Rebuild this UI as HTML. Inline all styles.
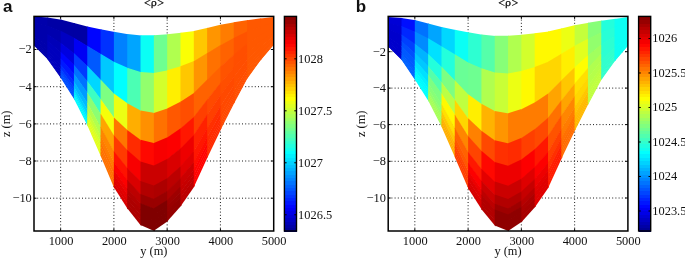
<!DOCTYPE html>
<html><head><meta charset="utf-8"><title>Mean density sections</title>
<style>
html,body{margin:0;padding:0;background:#fff;}
svg{display:block;will-change:transform;}
.g{stroke:#000;stroke-width:0.9;stroke-dasharray:1 2.2;}
.t{stroke:#000;stroke-width:1;}
.l{font-family:"Liberation Serif","DejaVu Serif",serif;font-size:12.4px;fill:#111;}
.ti{font-family:"Liberation Serif","DejaVu Serif",serif;font-size:12px;fill:#000;stroke:#000;stroke-width:0.25px;letter-spacing:0.3px;}
.rho{font-family:"DejaVu Serif","Liberation Serif",serif;font-size:9.8px;}
.pl{font-family:"Liberation Sans","DejaVu Sans",sans-serif;font-weight:bold;font-size:17px;fill:#111;}
</style></head>
<body>
<svg width="685" height="258" viewBox="0 0 685 258">
<rect width="685" height="258" fill="#fff"/>
<line x1="34.00" y1="49.50" x2="273.70" y2="49.50" class="g"/>
<line x1="34.00" y1="86.70" x2="273.70" y2="86.70" class="g"/>
<line x1="34.00" y1="123.90" x2="273.70" y2="123.90" class="g"/>
<line x1="34.00" y1="161.00" x2="273.70" y2="161.00" class="g"/>
<line x1="34.00" y1="198.20" x2="273.70" y2="198.20" class="g"/>
<line x1="60.63" y1="16.40" x2="60.63" y2="231.00" class="g"/>
<line x1="113.90" y1="16.40" x2="113.90" y2="231.00" class="g"/>
<line x1="167.17" y1="16.40" x2="167.17" y2="231.00" class="g"/>
<line x1="220.43" y1="16.40" x2="220.43" y2="231.00" class="g"/>
<polygon points="34.00,16.60 48.22,17.45 48.22,26.53 34.00,23.10" fill="#0000ac"/>
<polygon points="34.00,22.20 48.22,25.63 48.22,35.16 34.00,29.01" fill="#0000ac"/>
<polygon points="34.00,28.11 48.22,34.26 48.22,41.67 34.00,33.47" fill="#0000ac"/>
<polygon points="34.00,32.57 48.22,40.77 48.22,46.53 34.00,36.80" fill="#0000ac"/>
<polygon points="34.00,35.90 48.22,45.63 48.22,50.90 34.00,39.79" fill="#0000ac"/>
<polygon points="34.00,38.89 48.22,50.00 48.22,53.78 34.00,41.76" fill="#0000ac"/>
<polygon points="34.00,40.86 48.22,52.88 48.22,55.83 34.00,43.16" fill="#0000ac"/>
<polygon points="34.00,42.27 48.22,54.93 48.22,57.14 34.00,44.06" fill="#0000ac"/>
<polygon points="34.00,43.16 48.22,56.24 48.22,58.37 34.00,44.90" fill="#0000ac"/>
<polygon points="34.00,44.00 48.22,57.47 48.22,59.43 34.00,45.60" fill="#0000ac"/>
<polygon points="34.00,44.73 48.22,58.53 48.22,59.80 34.00,45.60" fill="#0000ac"/>
<polygon points="47.32,17.40 61.53,19.75 61.53,32.10 47.32,26.31" fill="#0000a6"/>
<polygon points="47.32,25.41 61.53,31.20 61.53,44.20 47.32,34.78" fill="#0000ae"/>
<polygon points="47.32,33.88 61.53,43.30 61.53,53.32 47.32,41.15" fill="#0000b8"/>
<polygon points="47.32,40.25 61.53,52.42 61.53,60.13 47.32,45.92" fill="#0000bd"/>
<polygon points="47.32,45.02 61.53,59.23 61.53,66.25 47.32,50.20" fill="#0000bd"/>
<polygon points="47.32,49.30 61.53,65.35 61.53,70.28 47.32,53.02" fill="#0000bd"/>
<polygon points="47.32,52.12 61.53,69.38 61.53,73.15 47.32,55.03" fill="#0000bd"/>
<polygon points="47.32,54.13 61.53,72.25 61.53,74.99 47.32,56.31" fill="#0000bd"/>
<polygon points="47.32,55.41 61.53,74.09 61.53,76.71 47.32,57.52" fill="#0000bd"/>
<polygon points="47.32,56.62 61.53,75.81 61.53,78.20 47.32,58.55" fill="#0000bd"/>
<polygon points="47.32,57.65 61.53,77.30 61.53,79.08 47.32,58.90" fill="#0000bd"/>
<polygon points="60.63,19.60 74.85,23.23 74.85,38.99 60.63,31.73" fill="#0000a4"/>
<polygon points="60.63,30.83 74.85,38.09 74.85,54.69 60.63,43.61" fill="#0000c2"/>
<polygon points="60.63,42.71 74.85,53.79 74.85,66.52 60.63,52.54" fill="#0000e0"/>
<polygon points="60.63,51.64 74.85,65.62 74.85,75.37 60.63,59.23" fill="#0004ff"/>
<polygon points="60.63,58.33 74.85,74.47 74.85,83.30 60.63,65.23" fill="#0018ff"/>
<polygon points="60.63,64.33 74.85,82.40 74.85,88.54 60.63,69.19" fill="#002cff"/>
<polygon points="60.63,68.29 74.85,87.64 74.85,92.27 60.63,72.01" fill="#0040ff"/>
<polygon points="60.63,71.11 74.85,91.37 74.85,94.65 60.63,73.81" fill="#004aff"/>
<polygon points="60.63,72.91 74.85,93.75 74.85,96.88 60.63,75.50" fill="#004fff"/>
<polygon points="60.63,74.60 74.85,95.98 74.85,98.81 60.63,76.95" fill="#004fff"/>
<polygon points="60.63,76.05 74.85,97.91 74.85,100.22 60.63,77.80" fill="#004fff"/>
<polygon points="73.95,23.00 88.17,26.84 88.17,47.09 73.95,38.53" fill="#0000a4"/>
<polygon points="73.95,37.63 88.17,46.19 88.17,67.54 73.95,53.99" fill="#0000f4"/>
<polygon points="73.95,53.09 88.17,66.64 88.17,82.94 73.95,65.64" fill="#003bff"/>
<polygon points="73.95,64.74 88.17,82.04 88.17,94.46 73.95,74.34" fill="#0072ff"/>
<polygon points="73.95,73.44 88.17,93.56 88.17,104.79 73.95,82.16" fill="#009bff"/>
<polygon points="73.95,81.26 88.17,103.89 88.17,111.61 73.95,87.31" fill="#00b9ff"/>
<polygon points="73.95,86.41 88.17,110.71 88.17,116.46 73.95,90.98" fill="#00cdff"/>
<polygon points="73.95,90.08 88.17,115.56 88.17,119.57 73.95,93.33" fill="#00e1ff"/>
<polygon points="73.95,92.43 88.17,118.67 88.17,122.48 73.95,95.53" fill="#00f0ff"/>
<polygon points="73.95,94.63 88.17,121.58 88.17,124.98 73.95,97.43" fill="#00faff"/>
<polygon points="73.95,96.53 88.17,124.08 88.17,127.09 73.95,98.80" fill="#00faff"/>
<polygon points="87.27,26.60 101.48,29.38 101.48,55.07 87.27,46.55" fill="#0004ff"/>
<polygon points="87.27,45.65 101.48,54.17 101.48,81.28 87.27,66.68" fill="#0059ff"/>
<polygon points="87.27,65.78 101.48,80.38 101.48,101.02 87.27,81.84" fill="#00d7ff"/>
<polygon points="87.27,80.94 101.48,100.12 101.48,115.78 87.27,93.18" fill="#3cffc3"/>
<polygon points="87.27,92.28 101.48,114.88 101.48,129.03 87.27,103.36" fill="#8cff73"/>
<polygon points="87.27,102.46 101.48,128.13 101.48,137.77 87.27,110.07" fill="#b0ff4f"/>
<polygon points="87.27,109.17 101.48,136.87 101.48,143.99 87.27,114.85" fill="#c4ff3b"/>
<polygon points="87.27,113.95 101.48,143.09 101.48,147.97 87.27,117.91" fill="#d3ff2c"/>
<polygon points="87.27,117.01 101.48,147.07 101.48,151.69 87.27,120.77" fill="#ddff22"/>
<polygon points="87.27,119.87 101.48,150.79 101.48,154.91 87.27,123.24" fill="#e2ff1d"/>
<polygon points="87.27,122.34 101.48,154.01 101.48,157.86 87.27,125.30" fill="#e2ff1d"/>
<polygon points="100.58,29.20 114.80,31.98 114.80,63.26 100.58,54.53" fill="#0031ff"/>
<polygon points="100.58,53.63 114.80,62.36 114.80,95.38 100.58,80.36" fill="#00c8ff"/>
<polygon points="100.58,79.46 114.80,94.48 114.80,119.57 100.58,99.81" fill="#7dff82"/>
<polygon points="100.58,98.91 114.80,118.67 114.80,137.66 100.58,114.35" fill="#f6ff09"/>
<polygon points="100.58,113.45 114.80,136.76 114.80,153.89 100.58,127.40" fill="#ffa400"/>
<polygon points="100.58,126.50 114.80,152.99 114.80,164.60 100.58,136.01" fill="#ff8600"/>
<polygon points="100.58,135.11 114.80,163.70 114.80,172.22 100.58,142.14" fill="#ff7c00"/>
<polygon points="100.58,141.24 114.80,171.32 114.80,177.10 100.58,146.07" fill="#ff7100"/>
<polygon points="100.58,145.17 114.80,176.20 114.80,181.67 100.58,149.74" fill="#ff7100"/>
<polygon points="100.58,148.84 114.80,180.77 114.80,185.61 100.58,152.90" fill="#ff7100"/>
<polygon points="100.58,152.00 114.80,184.71 114.80,189.43 100.58,155.80" fill="#ff7100"/>
<polygon points="113.90,31.80 128.12,34.15 128.12,68.93 113.90,62.71" fill="#0081ff"/>
<polygon points="113.90,61.81 128.12,68.03 128.12,104.75 113.90,94.43" fill="#00ffff"/>
<polygon points="113.90,93.53 128.12,103.85 128.12,131.72 113.90,118.32" fill="#ecff13"/>
<polygon points="113.90,117.42 128.12,130.82 128.12,151.89 113.90,136.19" fill="#ff7600"/>
<polygon points="113.90,135.29 128.12,150.99 128.12,169.99 113.90,152.22" fill="#ff3a00"/>
<polygon points="113.90,151.32 128.12,169.09 128.12,181.93 113.90,162.79" fill="#ff1200"/>
<polygon points="113.90,161.89 128.12,181.03 128.12,190.43 113.90,170.32" fill="#fd0000"/>
<polygon points="113.90,169.42 128.12,189.53 128.12,195.87 113.90,175.14" fill="#ee0000"/>
<polygon points="113.90,174.24 128.12,194.97 128.12,200.96 113.90,179.65" fill="#e40000"/>
<polygon points="113.90,178.75 128.12,200.06 128.12,205.35 113.90,183.54" fill="#df0000"/>
<polygon points="113.90,182.64 128.12,204.45 128.12,209.72 113.90,187.30" fill="#da0000"/>
<polygon points="127.22,34.00 141.43,35.39 141.43,73.10 127.22,68.54" fill="#00a5ff"/>
<polygon points="127.22,67.64 141.43,72.20 141.43,112.01 127.22,104.10" fill="#4bffb4"/>
<polygon points="127.22,103.20 141.43,111.11 141.43,141.31 127.22,130.87" fill="#ffae00"/>
<polygon points="127.22,129.97 141.43,140.41 141.43,163.23 127.22,150.90" fill="#ff2b00"/>
<polygon points="127.22,150.00 141.43,162.33 141.43,182.89 127.22,168.87" fill="#f80000"/>
<polygon points="127.22,167.97 141.43,181.99 141.43,195.86 127.22,180.72" fill="#da0000"/>
<polygon points="127.22,179.82 141.43,194.96 141.43,205.09 127.22,189.16" fill="#bc0000"/>
<polygon points="127.22,188.26 141.43,204.19 141.43,211.01 127.22,194.56" fill="#b20000"/>
<polygon points="127.22,193.66 141.43,210.11 141.43,216.54 127.22,199.61" fill="#ad0000"/>
<polygon points="127.22,198.71 141.43,215.64 141.43,221.31 127.22,203.97" fill="#ad0000"/>
<polygon points="127.22,203.07 141.43,220.41 141.43,226.13 127.22,208.30" fill="#ad0000"/>
<polygon points="140.53,35.30 154.75,35.30 154.75,74.01 140.53,72.81" fill="#0afff5"/>
<polygon points="140.53,71.91 154.75,73.11 154.75,113.97 140.53,111.51" fill="#92ff6d"/>
<polygon points="140.53,110.61 154.75,113.07 154.75,144.06 140.53,140.65" fill="#ff9000"/>
<polygon points="140.53,139.75 154.75,143.16 154.75,166.57 140.53,162.45" fill="#ff0800"/>
<polygon points="140.53,161.55 154.75,165.67 154.75,186.76 140.53,182.00" fill="#cb0000"/>
<polygon points="140.53,181.10 154.75,185.86 154.75,200.08 140.53,194.90" fill="#b20000"/>
<polygon points="140.53,194.00 154.75,199.18 154.75,209.56 140.53,204.08" fill="#990000"/>
<polygon points="140.53,203.18 154.75,208.66 154.75,215.64 140.53,209.97" fill="#800000"/>
<polygon points="140.53,209.07 154.75,214.74 154.75,221.32 140.53,215.47" fill="#800000"/>
<polygon points="140.53,214.57 154.75,220.42 154.75,226.22 140.53,220.21" fill="#800000"/>
<polygon points="140.53,219.31 154.75,225.32 154.75,231.19 140.53,225.00" fill="#800000"/>
<polygon points="153.85,35.30 168.07,34.13 168.07,71.09 153.85,73.93" fill="#6eff91"/>
<polygon points="153.85,73.03 168.07,70.19 168.07,109.21 153.85,113.81" fill="#d3ff2c"/>
<polygon points="153.85,112.91 168.07,108.31 168.07,137.91 153.85,143.84" fill="#ff7100"/>
<polygon points="153.85,142.94 168.07,137.01 168.07,159.38 153.85,166.31" fill="#f80000"/>
<polygon points="153.85,165.41 168.07,158.48 168.07,178.64 153.85,186.46" fill="#cb0000"/>
<polygon points="153.85,185.56 168.07,177.74 168.07,191.35 153.85,199.76" fill="#ad0000"/>
<polygon points="153.85,198.86 168.07,190.45 168.07,200.39 153.85,209.22" fill="#990000"/>
<polygon points="153.85,208.32 168.07,199.49 168.07,206.18 153.85,215.28" fill="#800000"/>
<polygon points="153.85,214.38 168.07,205.28 168.07,211.60 153.85,220.95" fill="#800000"/>
<polygon points="153.85,220.05 168.07,210.70 168.07,216.27 153.85,225.84" fill="#800000"/>
<polygon points="153.85,224.94 168.07,215.37 168.07,220.98 153.85,230.80" fill="#800000"/>
<polygon points="167.17,34.20 181.38,32.71 181.38,66.95 167.17,71.27" fill="#b0ff4f"/>
<polygon points="167.17,70.37 181.38,66.05 181.38,102.20 167.17,109.50" fill="#ffef00"/>
<polygon points="167.17,108.60 181.38,101.30 181.38,128.73 167.17,138.28" fill="#ff5800"/>
<polygon points="167.17,137.38 181.38,127.83 181.38,148.59 167.17,159.81" fill="#fd0000"/>
<polygon points="167.17,158.91 181.38,147.69 181.38,166.40 167.17,179.14" fill="#da0000"/>
<polygon points="167.17,178.24 181.38,165.50 181.38,178.15 167.17,191.88" fill="#bc0000"/>
<polygon points="167.17,190.98 181.38,177.25 181.38,186.51 167.17,200.95" fill="#ad0000"/>
<polygon points="167.17,200.05 181.38,185.61 181.38,191.87 167.17,206.76" fill="#9e0000"/>
<polygon points="167.17,205.86 181.38,190.97 181.38,196.88 167.17,212.19" fill="#990000"/>
<polygon points="167.17,211.29 181.38,195.98 181.38,201.20 167.17,216.88" fill="#940000"/>
<polygon points="167.17,215.98 181.38,200.30 181.38,205.48 167.17,221.60" fill="#940000"/>
<polygon points="180.48,32.80 194.70,30.88 194.70,61.72 180.48,67.22" fill="#fbff04"/>
<polygon points="180.48,66.32 194.70,60.82 194.70,93.36 180.48,102.66" fill="#ffc700"/>
<polygon points="180.48,101.76 194.70,92.46 194.70,117.19 180.48,129.34" fill="#ff4e00"/>
<polygon points="180.48,128.44 194.70,116.29 194.70,135.01 180.48,149.30" fill="#ff1700"/>
<polygon points="180.48,148.40 194.70,134.11 194.70,151.01 180.48,167.21" fill="#ee0000"/>
<polygon points="180.48,166.31 194.70,150.11 194.70,161.56 180.48,179.02" fill="#df0000"/>
<polygon points="180.48,178.12 194.70,160.66 194.70,169.06 180.48,187.42" fill="#cb0000"/>
<polygon points="180.48,186.52 194.70,168.16 194.70,173.87 180.48,192.81" fill="#c60000"/>
<polygon points="180.48,191.91 194.70,172.97 194.70,178.37 180.48,197.85" fill="#c10000"/>
<polygon points="180.48,196.95 194.70,177.47 194.70,182.25 180.48,202.19" fill="#bc0000"/>
<polygon points="180.48,201.29 194.70,181.35 194.70,186.00 180.48,206.50" fill="#bc0000"/>
<polygon points="193.80,31.00 208.02,27.80 208.02,53.49 193.80,62.07" fill="#ffc700"/>
<polygon points="193.80,61.17 208.02,52.59 208.02,79.69 193.80,93.95" fill="#ff9500"/>
<polygon points="193.80,93.05 208.02,78.79 208.02,99.41 193.80,117.96" fill="#ff6200"/>
<polygon points="193.80,117.06 208.02,98.51 208.02,114.17 193.80,135.92" fill="#ff3f00"/>
<polygon points="193.80,135.02 208.02,113.27 208.02,127.41 193.80,152.03" fill="#ff2100"/>
<polygon points="193.80,151.13 208.02,126.51 208.02,136.15 193.80,162.66" fill="#ff1700"/>
<polygon points="193.80,161.76 208.02,135.25 208.02,142.36 193.80,170.23" fill="#ff0d00"/>
<polygon points="193.80,169.33 208.02,141.46 208.02,146.34 193.80,175.07" fill="#ff0300"/>
<polygon points="193.80,174.17 208.02,145.44 208.02,150.07 193.80,179.60" fill="#ff0300"/>
<polygon points="193.80,178.70 208.02,149.17 208.02,153.28 193.80,183.51" fill="#ff0300"/>
<polygon points="193.80,182.61 208.02,152.38 208.02,156.23 193.80,187.30" fill="#ff0300"/>
<polygon points="207.12,28.00 221.33,24.58 221.33,45.52 207.12,54.03" fill="#ff9500"/>
<polygon points="207.12,53.13 221.33,44.62 221.33,66.70 207.12,80.59" fill="#ff7100"/>
<polygon points="207.12,79.69 221.33,65.80 221.33,82.65 207.12,100.59" fill="#ff6200"/>
<polygon points="207.12,99.69 221.33,81.75 221.33,94.58 207.12,115.55" fill="#ff4900"/>
<polygon points="207.12,114.65 221.33,93.68 221.33,105.29 207.12,128.97" fill="#ff3f00"/>
<polygon points="207.12,128.07 221.33,104.39 221.33,112.35 207.12,137.83" fill="#ff3000"/>
<polygon points="207.12,136.93 221.33,111.45 221.33,117.37 207.12,144.13" fill="#ff2b00"/>
<polygon points="207.12,143.23 221.33,116.47 221.33,120.59 207.12,148.16" fill="#ff2b00"/>
<polygon points="207.12,147.26 221.33,119.69 221.33,123.60 207.12,151.94" fill="#ff2b00"/>
<polygon points="207.12,151.04 221.33,122.70 221.33,126.20 207.12,155.19" fill="#ff2b00"/>
<polygon points="207.12,154.29 221.33,125.30 221.33,128.41 207.12,158.20" fill="#ff2b00"/>
<polygon points="220.43,24.80 234.65,22.13 234.65,38.49 220.43,46.06" fill="#ff7c00"/>
<polygon points="220.43,45.16 234.65,37.59 234.65,54.83 220.43,67.58" fill="#ff6200"/>
<polygon points="220.43,66.68 234.65,53.93 234.65,67.13 220.43,83.79" fill="#ff5300"/>
<polygon points="220.43,82.89 234.65,66.23 234.65,76.33 220.43,95.91" fill="#ff4e00"/>
<polygon points="220.43,95.01 234.65,75.43 234.65,84.59 220.43,106.79" fill="#ff4900"/>
<polygon points="220.43,105.89 234.65,83.69 234.65,90.04 220.43,113.96" fill="#ff4900"/>
<polygon points="220.43,113.06 234.65,89.14 234.65,93.91 220.43,119.07" fill="#ff4900"/>
<polygon points="220.43,118.17 234.65,93.01 234.65,96.39 220.43,122.34" fill="#ff4900"/>
<polygon points="220.43,121.44 234.65,95.49 234.65,98.72 220.43,125.40" fill="#ff4900"/>
<polygon points="220.43,124.50 234.65,97.82 234.65,100.72 220.43,128.03" fill="#ff4900"/>
<polygon points="220.43,127.14 234.65,99.82 234.65,102.22 220.43,130.30" fill="#ff4900"/>
<polygon points="233.75,22.30 247.97,20.06 247.97,32.01 233.75,38.97" fill="#ff6200"/>
<polygon points="233.75,38.07 247.97,31.11 247.97,43.69 233.75,55.63" fill="#ff5300"/>
<polygon points="233.75,54.73 247.97,42.79 247.97,52.48 233.75,68.18" fill="#ff4e00"/>
<polygon points="233.75,67.28 247.97,51.58 247.97,59.06 233.75,77.57" fill="#ff4e00"/>
<polygon points="233.75,76.67 247.97,58.16 247.97,64.96 233.75,85.99" fill="#ff4e00"/>
<polygon points="233.75,85.09 247.97,64.06 247.97,68.86 233.75,91.55" fill="#ff4e00"/>
<polygon points="233.75,90.65 247.97,67.96 247.97,71.63 233.75,95.50" fill="#ff4e00"/>
<polygon points="233.75,94.60 247.97,70.73 247.97,73.40 233.75,98.04" fill="#ff4e00"/>
<polygon points="233.75,97.14 247.97,72.50 247.97,75.06 233.75,100.41" fill="#ff4e00"/>
<polygon points="233.75,99.51 247.97,74.16 247.97,76.49 233.75,102.45" fill="#ff4e00"/>
<polygon points="233.75,101.55 247.97,75.59 247.97,77.31 233.75,104.00" fill="#ff4e00"/>
<polygon points="247.07,20.20 261.28,18.28 261.28,27.09 247.07,32.45" fill="#ff5800"/>
<polygon points="247.07,31.55 261.28,26.19 261.28,35.44 247.07,44.44" fill="#ff5800"/>
<polygon points="247.07,43.54 261.28,34.54 261.28,41.74 247.07,53.48" fill="#ff5800"/>
<polygon points="247.07,52.58 261.28,40.84 261.28,46.44 247.07,60.23" fill="#ff5800"/>
<polygon points="247.07,59.33 261.28,45.54 261.28,50.67 247.07,66.29" fill="#ff5800"/>
<polygon points="247.07,65.39 261.28,49.77 261.28,53.45 247.07,70.29" fill="#ff5800"/>
<polygon points="247.07,69.39 261.28,52.55 261.28,55.44 247.07,73.14" fill="#ff5800"/>
<polygon points="247.07,72.24 261.28,54.54 261.28,56.71 247.07,74.96" fill="#ff5800"/>
<polygon points="247.07,74.06 261.28,55.81 261.28,57.90 247.07,76.67" fill="#ff5800"/>
<polygon points="247.07,75.77 261.28,57.00 261.28,58.92 247.07,78.14" fill="#ff5800"/>
<polygon points="247.07,77.24 261.28,58.02 261.28,59.25 247.07,79.00" fill="#ff5800"/>
<polygon points="260.38,18.40 273.70,16.90 273.70,23.18 260.38,27.43" fill="#ff5800"/>
<polygon points="260.38,26.53 273.70,22.28 273.70,28.88 260.38,36.01" fill="#ff5800"/>
<polygon points="260.38,35.11 273.70,27.98 273.70,33.16 260.38,42.48" fill="#ff5800"/>
<polygon points="260.38,41.58 273.70,32.26 273.70,36.37 260.38,47.32" fill="#ff5800"/>
<polygon points="260.38,46.42 273.70,35.47 273.70,39.24 260.38,51.66" fill="#ff5800"/>
<polygon points="260.38,50.76 273.70,38.34 273.70,41.14 260.38,54.52" fill="#ff5800"/>
<polygon points="260.38,53.62 273.70,40.24 273.70,42.49 260.38,56.56" fill="#ff5800"/>
<polygon points="260.38,55.66 273.70,41.59 273.70,43.36 260.38,57.86" fill="#ff5800"/>
<polygon points="260.38,56.96 273.70,42.46 273.70,44.17 260.38,59.08" fill="#ff5800"/>
<polygon points="260.38,58.18 273.70,43.27 273.70,44.80 260.38,60.14" fill="#ff5800"/>
<polygon points="260.38,59.24 273.70,43.96 273.70,44.80 260.38,60.50" fill="#ff5800"/>
<rect x="34.00" y="16.40" width="239.70" height="214.60" fill="none" stroke="#000" stroke-width="1.5"/>
<line x1="34.00" y1="49.50" x2="36.50" y2="49.50" class="t"/>
<line x1="273.70" y1="49.50" x2="271.20" y2="49.50" class="t"/>
<text x="31.80" y="53.40" text-anchor="end" class="l">−2</text>
<line x1="34.00" y1="86.70" x2="36.50" y2="86.70" class="t"/>
<line x1="273.70" y1="86.70" x2="271.20" y2="86.70" class="t"/>
<text x="31.80" y="90.60" text-anchor="end" class="l">−4</text>
<line x1="34.00" y1="123.90" x2="36.50" y2="123.90" class="t"/>
<line x1="273.70" y1="123.90" x2="271.20" y2="123.90" class="t"/>
<text x="31.80" y="127.80" text-anchor="end" class="l">−6</text>
<line x1="34.00" y1="161.00" x2="36.50" y2="161.00" class="t"/>
<line x1="273.70" y1="161.00" x2="271.20" y2="161.00" class="t"/>
<text x="31.80" y="164.90" text-anchor="end" class="l">−8</text>
<line x1="34.00" y1="198.20" x2="36.50" y2="198.20" class="t"/>
<line x1="273.70" y1="198.20" x2="271.20" y2="198.20" class="t"/>
<text x="31.80" y="202.10" text-anchor="end" class="l">−10</text>
<line x1="60.63" y1="231.00" x2="60.63" y2="228.50" class="t"/>
<line x1="60.63" y1="16.40" x2="60.63" y2="18.90" class="t"/>
<text x="61.03" y="244.60" text-anchor="middle" class="l">1000</text>
<line x1="113.90" y1="231.00" x2="113.90" y2="228.50" class="t"/>
<line x1="113.90" y1="16.40" x2="113.90" y2="18.90" class="t"/>
<text x="114.30" y="244.60" text-anchor="middle" class="l">2000</text>
<line x1="167.17" y1="231.00" x2="167.17" y2="228.50" class="t"/>
<line x1="167.17" y1="16.40" x2="167.17" y2="18.90" class="t"/>
<text x="167.57" y="244.60" text-anchor="middle" class="l">3000</text>
<line x1="220.43" y1="231.00" x2="220.43" y2="228.50" class="t"/>
<line x1="220.43" y1="16.40" x2="220.43" y2="18.90" class="t"/>
<text x="220.83" y="244.60" text-anchor="middle" class="l">4000</text>
<text x="274.10" y="244.60" text-anchor="middle" class="l">5000</text>
<text x="153.85" y="255.2" text-anchor="middle" class="l">y (m)</text>
<text x="154.15" y="7.0" text-anchor="middle" class="ti">&lt;<tspan dy="-0.6" class="rho">ρ</tspan><tspan dy="0.6">&gt;</tspan></text>
<text transform="translate(10.40,123.8) rotate(-90)" text-anchor="middle" class="l">z (m)</text>
<text x="3.00" y="12.4" class="pl">a</text>
<rect x="284.40" y="227.65" width="12.10" height="3.95" fill="#000097" shape-rendering="crispEdges"/>
<rect x="284.40" y="224.29" width="12.10" height="3.95" fill="#0000a7" shape-rendering="crispEdges"/>
<rect x="284.40" y="220.94" width="12.10" height="3.95" fill="#0000b7" shape-rendering="crispEdges"/>
<rect x="284.40" y="217.59" width="12.10" height="3.95" fill="#0000c6" shape-rendering="crispEdges"/>
<rect x="284.40" y="214.23" width="12.10" height="3.95" fill="#0000d6" shape-rendering="crispEdges"/>
<rect x="284.40" y="210.88" width="12.10" height="3.95" fill="#0000e6" shape-rendering="crispEdges"/>
<rect x="284.40" y="207.53" width="12.10" height="3.95" fill="#0000f5" shape-rendering="crispEdges"/>
<rect x="284.40" y="204.18" width="12.10" height="3.95" fill="#0006ff" shape-rendering="crispEdges"/>
<rect x="284.40" y="200.82" width="12.10" height="3.95" fill="#0016ff" shape-rendering="crispEdges"/>
<rect x="284.40" y="197.47" width="12.10" height="3.95" fill="#0025ff" shape-rendering="crispEdges"/>
<rect x="284.40" y="194.12" width="12.10" height="3.95" fill="#0035ff" shape-rendering="crispEdges"/>
<rect x="284.40" y="190.76" width="12.10" height="3.95" fill="#0045ff" shape-rendering="crispEdges"/>
<rect x="284.40" y="187.41" width="12.10" height="3.95" fill="#0055ff" shape-rendering="crispEdges"/>
<rect x="284.40" y="184.06" width="12.10" height="3.95" fill="#0064ff" shape-rendering="crispEdges"/>
<rect x="284.40" y="180.70" width="12.10" height="3.95" fill="#0074ff" shape-rendering="crispEdges"/>
<rect x="284.40" y="177.35" width="12.10" height="3.95" fill="#0084ff" shape-rendering="crispEdges"/>
<rect x="284.40" y="174.00" width="12.10" height="3.95" fill="#0093ff" shape-rendering="crispEdges"/>
<rect x="284.40" y="170.64" width="12.10" height="3.95" fill="#00a3ff" shape-rendering="crispEdges"/>
<rect x="284.40" y="167.29" width="12.10" height="3.95" fill="#00b3ff" shape-rendering="crispEdges"/>
<rect x="284.40" y="163.94" width="12.10" height="3.95" fill="#00c2ff" shape-rendering="crispEdges"/>
<rect x="284.40" y="160.58" width="12.10" height="3.95" fill="#00d2ff" shape-rendering="crispEdges"/>
<rect x="284.40" y="157.23" width="12.10" height="3.95" fill="#00e2ff" shape-rendering="crispEdges"/>
<rect x="284.40" y="153.88" width="12.10" height="3.95" fill="#00f1ff" shape-rendering="crispEdges"/>
<rect x="284.40" y="150.53" width="12.10" height="3.95" fill="#02fffd" shape-rendering="crispEdges"/>
<rect x="284.40" y="147.17" width="12.10" height="3.95" fill="#12ffed" shape-rendering="crispEdges"/>
<rect x="284.40" y="143.82" width="12.10" height="3.95" fill="#21ffde" shape-rendering="crispEdges"/>
<rect x="284.40" y="140.47" width="12.10" height="3.95" fill="#31ffce" shape-rendering="crispEdges"/>
<rect x="284.40" y="137.11" width="12.10" height="3.95" fill="#41ffbe" shape-rendering="crispEdges"/>
<rect x="284.40" y="133.76" width="12.10" height="3.95" fill="#51ffae" shape-rendering="crispEdges"/>
<rect x="284.40" y="130.41" width="12.10" height="3.95" fill="#60ff9f" shape-rendering="crispEdges"/>
<rect x="284.40" y="127.05" width="12.10" height="3.95" fill="#70ff8f" shape-rendering="crispEdges"/>
<rect x="284.40" y="123.70" width="12.10" height="3.95" fill="#80ff7f" shape-rendering="crispEdges"/>
<rect x="284.40" y="120.35" width="12.10" height="3.95" fill="#8fff70" shape-rendering="crispEdges"/>
<rect x="284.40" y="116.99" width="12.10" height="3.95" fill="#9fff60" shape-rendering="crispEdges"/>
<rect x="284.40" y="113.64" width="12.10" height="3.95" fill="#afff50" shape-rendering="crispEdges"/>
<rect x="284.40" y="110.29" width="12.10" height="3.95" fill="#beff41" shape-rendering="crispEdges"/>
<rect x="284.40" y="106.93" width="12.10" height="3.95" fill="#ceff31" shape-rendering="crispEdges"/>
<rect x="284.40" y="103.58" width="12.10" height="3.95" fill="#deff21" shape-rendering="crispEdges"/>
<rect x="284.40" y="100.23" width="12.10" height="3.95" fill="#edff12" shape-rendering="crispEdges"/>
<rect x="284.40" y="96.88" width="12.10" height="3.95" fill="#fdff02" shape-rendering="crispEdges"/>
<rect x="284.40" y="93.52" width="12.10" height="3.95" fill="#fff100" shape-rendering="crispEdges"/>
<rect x="284.40" y="90.17" width="12.10" height="3.95" fill="#ffe100" shape-rendering="crispEdges"/>
<rect x="284.40" y="86.82" width="12.10" height="3.95" fill="#ffd200" shape-rendering="crispEdges"/>
<rect x="284.40" y="83.46" width="12.10" height="3.95" fill="#ffc200" shape-rendering="crispEdges"/>
<rect x="284.40" y="80.11" width="12.10" height="3.95" fill="#ffb200" shape-rendering="crispEdges"/>
<rect x="284.40" y="76.76" width="12.10" height="3.95" fill="#ffa300" shape-rendering="crispEdges"/>
<rect x="284.40" y="73.40" width="12.10" height="3.95" fill="#ff9300" shape-rendering="crispEdges"/>
<rect x="284.40" y="70.05" width="12.10" height="3.95" fill="#ff8300" shape-rendering="crispEdges"/>
<rect x="284.40" y="66.70" width="12.10" height="3.95" fill="#ff7400" shape-rendering="crispEdges"/>
<rect x="284.40" y="63.34" width="12.10" height="3.95" fill="#ff6400" shape-rendering="crispEdges"/>
<rect x="284.40" y="59.99" width="12.10" height="3.95" fill="#ff5400" shape-rendering="crispEdges"/>
<rect x="284.40" y="56.64" width="12.10" height="3.95" fill="#ff4500" shape-rendering="crispEdges"/>
<rect x="284.40" y="53.28" width="12.10" height="3.95" fill="#ff3500" shape-rendering="crispEdges"/>
<rect x="284.40" y="49.93" width="12.10" height="3.95" fill="#ff2500" shape-rendering="crispEdges"/>
<rect x="284.40" y="46.58" width="12.10" height="3.95" fill="#ff1600" shape-rendering="crispEdges"/>
<rect x="284.40" y="43.22" width="12.10" height="3.95" fill="#ff0600" shape-rendering="crispEdges"/>
<rect x="284.40" y="39.87" width="12.10" height="3.95" fill="#f50000" shape-rendering="crispEdges"/>
<rect x="284.40" y="36.52" width="12.10" height="3.95" fill="#e50000" shape-rendering="crispEdges"/>
<rect x="284.40" y="33.17" width="12.10" height="3.95" fill="#d60000" shape-rendering="crispEdges"/>
<rect x="284.40" y="29.81" width="12.10" height="3.95" fill="#c60000" shape-rendering="crispEdges"/>
<rect x="284.40" y="26.46" width="12.10" height="3.95" fill="#b60000" shape-rendering="crispEdges"/>
<rect x="284.40" y="23.11" width="12.10" height="3.95" fill="#a70000" shape-rendering="crispEdges"/>
<rect x="284.40" y="19.75" width="12.10" height="3.95" fill="#970000" shape-rendering="crispEdges"/>
<rect x="284.40" y="16.40" width="12.10" height="3.95" fill="#870000" shape-rendering="crispEdges"/>
<rect x="284.40" y="16.40" width="12.10" height="214.60" fill="none" stroke="#000" stroke-width="1.4"/>
<line x1="284.40" y1="214.78" x2="286.60" y2="214.78" class="t"/>
<line x1="296.50" y1="214.78" x2="294.30" y2="214.78" class="t"/>
<text x="298.10" y="218.68" class="l">1026.5</text>
<line x1="284.40" y1="162.79" x2="286.60" y2="162.79" class="t"/>
<line x1="296.50" y1="162.79" x2="294.30" y2="162.79" class="t"/>
<text x="298.10" y="166.69" class="l">1027</text>
<line x1="284.40" y1="110.81" x2="286.60" y2="110.81" class="t"/>
<line x1="296.50" y1="110.81" x2="294.30" y2="110.81" class="t"/>
<text x="298.10" y="114.71" class="l">1027.5</text>
<line x1="284.40" y1="58.82" x2="286.60" y2="58.82" class="t"/>
<line x1="296.50" y1="58.82" x2="294.30" y2="58.82" class="t"/>
<text x="298.10" y="62.72" class="l">1028</text>
<line x1="388.20" y1="51.70" x2="627.90" y2="51.70" class="g"/>
<line x1="388.20" y1="88.10" x2="627.90" y2="88.10" class="g"/>
<line x1="388.20" y1="124.60" x2="627.90" y2="124.60" class="g"/>
<line x1="388.20" y1="161.30" x2="627.90" y2="161.30" class="g"/>
<line x1="388.20" y1="198.00" x2="627.90" y2="198.00" class="g"/>
<line x1="414.83" y1="16.40" x2="414.83" y2="231.00" class="g"/>
<line x1="468.10" y1="16.40" x2="468.10" y2="231.00" class="g"/>
<line x1="521.37" y1="16.40" x2="521.37" y2="231.00" class="g"/>
<line x1="574.63" y1="16.40" x2="574.63" y2="231.00" class="g"/>
<polygon points="388.20,17.00 402.42,17.96 402.42,27.11 388.20,23.59" fill="#0000d6"/>
<polygon points="388.20,22.69 402.42,26.21 402.42,35.83 388.20,29.61" fill="#0000d1"/>
<polygon points="388.20,28.71 402.42,34.93 402.42,42.39 388.20,34.14" fill="#0000cc"/>
<polygon points="388.20,33.24 402.42,41.49 402.42,47.30 388.20,37.53" fill="#0000cc"/>
<polygon points="388.20,36.63 402.42,46.40 402.42,51.71 388.20,40.57" fill="#0000cc"/>
<polygon points="388.20,39.67 402.42,50.81 402.42,54.62 388.20,42.58" fill="#0000cc"/>
<polygon points="388.20,41.68 402.42,53.72 402.42,56.68 388.20,44.01" fill="#0000cc"/>
<polygon points="388.20,43.11 402.42,55.78 402.42,58.01 388.20,44.92" fill="#0000cc"/>
<polygon points="388.20,44.02 402.42,57.11 402.42,59.25 388.20,45.78" fill="#0000cc"/>
<polygon points="388.20,44.88 402.42,58.35 402.42,60.32 388.20,46.50" fill="#0000cc"/>
<polygon points="388.20,45.61 402.42,59.42 402.42,60.70 388.20,46.50" fill="#0000cc"/>
<polygon points="401.52,17.90 415.73,20.25 415.73,32.86 401.52,26.89" fill="#000eff"/>
<polygon points="401.52,25.99 415.73,31.96 415.73,45.24 401.52,35.43" fill="#0027ff"/>
<polygon points="401.52,34.53 415.73,44.34 415.73,54.56 401.52,41.87" fill="#0040ff"/>
<polygon points="401.52,40.97 415.73,53.66 415.73,61.54 401.52,46.68" fill="#004fff"/>
<polygon points="401.52,45.78 415.73,60.64 415.73,67.79 401.52,51.00" fill="#0059ff"/>
<polygon points="401.52,50.10 415.73,66.89 415.73,71.92 401.52,53.85" fill="#0059ff"/>
<polygon points="401.52,52.95 415.73,71.02 415.73,74.86 401.52,55.88" fill="#005eff"/>
<polygon points="401.52,54.98 415.73,73.96 415.73,76.74 401.52,57.18" fill="#0063ff"/>
<polygon points="401.52,56.28 415.73,75.84 415.73,78.50 401.52,58.40" fill="#0063ff"/>
<polygon points="401.52,57.50 415.73,77.60 415.73,80.02 401.52,59.44" fill="#0063ff"/>
<polygon points="401.52,58.54 415.73,79.12 415.73,80.94 401.52,59.80" fill="#0063ff"/>
<polygon points="414.83,20.10 429.05,23.73 429.05,39.72 414.83,32.48" fill="#0072ff"/>
<polygon points="414.83,31.58 429.05,38.82 429.05,55.67 414.83,44.62" fill="#008bff"/>
<polygon points="414.83,43.72 429.05,54.77 429.05,67.68 414.83,53.76" fill="#00b4ff"/>
<polygon points="414.83,52.86 429.05,66.78 429.05,76.66 414.83,60.60" fill="#00c8ff"/>
<polygon points="414.83,59.70 429.05,75.76 429.05,84.72 414.83,66.73" fill="#00e1ff"/>
<polygon points="414.83,65.83 429.05,83.82 429.05,90.04 414.83,70.78" fill="#00f0ff"/>
<polygon points="414.83,69.88 429.05,89.14 429.05,93.82 414.83,73.66" fill="#00faff"/>
<polygon points="414.83,72.76 429.05,92.92 429.05,96.25 414.83,75.50" fill="#00faff"/>
<polygon points="414.83,74.60 429.05,95.35 429.05,98.51 414.83,77.23" fill="#00ffff"/>
<polygon points="414.83,76.33 429.05,97.61 429.05,100.47 414.83,78.72" fill="#00ffff"/>
<polygon points="414.83,77.81 429.05,99.57 429.05,101.91 414.83,79.60" fill="#00ffff"/>
<polygon points="428.15,23.50 442.37,27.34 442.37,47.74 428.15,39.26" fill="#00a5ff"/>
<polygon points="428.15,38.36 442.37,46.84 442.37,68.35 428.15,54.97" fill="#00e1ff"/>
<polygon points="428.15,54.07 442.37,67.45 442.37,83.87 428.15,66.80" fill="#23ffdc"/>
<polygon points="428.15,65.90 442.37,82.97 442.37,95.47 428.15,75.64" fill="#55ffaa"/>
<polygon points="428.15,74.74 442.37,94.57 442.37,105.89 428.15,83.58" fill="#7dff82"/>
<polygon points="428.15,82.68 442.37,104.99 442.37,112.76 428.15,88.82" fill="#87ff78"/>
<polygon points="428.15,87.92 442.37,111.86 442.37,117.65 428.15,92.55" fill="#92ff6d"/>
<polygon points="428.15,91.64 442.37,116.75 442.37,120.78 428.15,94.93" fill="#a1ff5e"/>
<polygon points="428.15,94.03 442.37,119.88 442.37,123.71 428.15,97.17" fill="#a6ff59"/>
<polygon points="428.15,96.27 442.37,122.81 442.37,126.23 428.15,99.09" fill="#a6ff59"/>
<polygon points="428.15,98.19 442.37,125.33 442.37,128.36 428.15,100.50" fill="#a6ff59"/>
<polygon points="441.47,27.10 455.68,29.88 455.68,55.71 441.47,47.20" fill="#00d7ff"/>
<polygon points="441.47,46.30 455.68,54.81 455.68,82.06 441.47,67.50" fill="#23ffdc"/>
<polygon points="441.47,66.60 455.68,81.16 455.68,101.90 441.47,82.78" fill="#7dff82"/>
<polygon points="441.47,81.88 455.68,101.00 455.68,116.74 441.47,94.22" fill="#baff45"/>
<polygon points="441.47,93.32 455.68,115.84 455.68,130.06 441.47,104.48" fill="#fff900"/>
<polygon points="441.47,103.58 455.68,129.16 455.68,138.85 441.47,111.24" fill="#ffe000"/>
<polygon points="441.47,110.34 455.68,137.95 455.68,145.10 441.47,116.06" fill="#ffc700"/>
<polygon points="441.47,115.16 455.68,144.20 455.68,149.10 441.47,119.14" fill="#ffb800"/>
<polygon points="441.47,118.24 455.68,148.20 455.68,152.85 441.47,122.03" fill="#ffae00"/>
<polygon points="441.47,121.13 455.68,151.95 455.68,156.08 441.47,124.52" fill="#ffae00"/>
<polygon points="441.47,123.62 455.68,155.18 455.68,159.05 441.47,126.60" fill="#ffae00"/>
<polygon points="454.78,29.70 469.00,32.48 469.00,63.84 454.78,55.17" fill="#0afff5"/>
<polygon points="454.78,54.27 469.00,62.94 469.00,96.04 454.78,81.14" fill="#69ff96"/>
<polygon points="454.78,80.24 469.00,95.14 469.00,120.28 454.78,100.69" fill="#bfff40"/>
<polygon points="454.78,99.79 469.00,119.38 469.00,138.41 454.78,115.32" fill="#ffd600"/>
<polygon points="454.78,114.42 469.00,137.51 469.00,154.69 454.78,128.44" fill="#ff8600"/>
<polygon points="454.78,127.54 469.00,153.79 469.00,165.42 454.78,137.10" fill="#ff6200"/>
<polygon points="454.78,136.20 469.00,164.52 469.00,173.06 454.78,143.26" fill="#ff5800"/>
<polygon points="454.78,142.36 469.00,172.16 469.00,177.95 454.78,147.21" fill="#ff4900"/>
<polygon points="454.78,146.31 469.00,177.05 469.00,182.53 454.78,150.90" fill="#ff3f00"/>
<polygon points="454.78,150.00 469.00,181.63 469.00,186.47 454.78,154.08" fill="#ff3f00"/>
<polygon points="454.78,153.18 469.00,185.57 469.00,190.31 454.78,157.00" fill="#ff3f00"/>
<polygon points="468.10,32.30 482.32,34.65 482.32,69.51 468.10,63.29" fill="#2dffd2"/>
<polygon points="468.10,62.39 482.32,68.61 482.32,105.41 468.10,95.09" fill="#6eff91"/>
<polygon points="468.10,94.19 482.32,104.51 482.32,132.44 468.10,119.04" fill="#ffef00"/>
<polygon points="468.10,118.14 482.32,131.54 482.32,152.66 468.10,136.95" fill="#ff8100"/>
<polygon points="468.10,136.05 482.32,151.76 482.32,170.80 468.10,153.02" fill="#ff4400"/>
<polygon points="468.10,152.12 482.32,169.90 482.32,182.77 468.10,163.63" fill="#ff1700"/>
<polygon points="468.10,162.73 482.32,181.87 482.32,191.28 468.10,171.17" fill="#fd0000"/>
<polygon points="468.10,170.27 482.32,190.38 482.32,196.74 468.10,176.00" fill="#ee0000"/>
<polygon points="468.10,175.10 482.32,195.84 482.32,201.84 468.10,180.53" fill="#df0000"/>
<polygon points="468.10,179.63 482.32,200.94 482.32,206.24 468.10,184.42" fill="#da0000"/>
<polygon points="468.10,183.52 482.32,205.34 482.32,210.62 468.10,188.20" fill="#d50000"/>
<polygon points="481.42,34.50 495.63,35.89 495.63,73.60 481.42,69.12" fill="#55ffaa"/>
<polygon points="481.42,68.22 495.63,72.70 495.63,112.50 481.42,104.76" fill="#b0ff4f"/>
<polygon points="481.42,103.86 495.63,111.60 495.63,141.79 481.42,131.59" fill="#ffb300"/>
<polygon points="481.42,130.69 495.63,140.89 495.63,163.71 481.42,151.66" fill="#ff4900"/>
<polygon points="481.42,150.76 495.63,162.81 495.63,183.37 481.42,169.67" fill="#ff0800"/>
<polygon points="481.42,168.77 495.63,182.47 495.63,196.34 481.42,181.55" fill="#e40000"/>
<polygon points="481.42,180.65 495.63,195.44 495.63,205.57 481.42,190.01" fill="#cb0000"/>
<polygon points="481.42,189.11 495.63,204.67 495.63,211.48 481.42,195.43" fill="#bc0000"/>
<polygon points="481.42,194.53 495.63,210.58 495.63,217.01 481.42,200.49" fill="#b20000"/>
<polygon points="481.42,199.59 495.63,216.11 495.63,221.78 481.42,204.86" fill="#b20000"/>
<polygon points="481.42,203.96 495.63,220.88 495.63,226.60 481.42,209.20" fill="#b20000"/>
<polygon points="494.73,35.80 508.95,35.80 508.95,74.42 494.73,73.31" fill="#87ff78"/>
<polygon points="494.73,72.41 508.95,73.52 508.95,114.30 494.73,112.01" fill="#c9ff36"/>
<polygon points="494.73,111.11 508.95,113.40 508.95,144.32 494.73,141.15" fill="#ff9500"/>
<polygon points="494.73,140.25 508.95,143.42 508.95,166.78 494.73,162.95" fill="#ff3000"/>
<polygon points="494.73,162.05 508.95,165.88 508.95,186.93 494.73,182.50" fill="#ee0000"/>
<polygon points="494.73,181.60 508.95,186.03 508.95,200.23 494.73,195.40" fill="#cb0000"/>
<polygon points="494.73,194.50 508.95,199.33 508.95,209.69 494.73,204.58" fill="#b20000"/>
<polygon points="494.73,203.68 508.95,208.79 508.95,215.75 494.73,210.47" fill="#9e0000"/>
<polygon points="494.73,209.57 508.95,214.85 508.95,221.41 494.73,215.97" fill="#8f0000"/>
<polygon points="494.73,215.07 508.95,220.51 508.95,226.30 494.73,220.71" fill="#8f0000"/>
<polygon points="494.73,219.81 508.95,225.40 508.95,231.26 494.73,225.50" fill="#8f0000"/>
<polygon points="508.05,35.80 522.27,34.63 522.27,71.61 508.05,74.35" fill="#b0ff4f"/>
<polygon points="508.05,73.45 522.27,70.71 522.27,109.76 508.05,114.15" fill="#ecff13"/>
<polygon points="508.05,113.25 522.27,108.86 522.27,138.48 508.05,144.12" fill="#ff7c00"/>
<polygon points="508.05,143.22 522.27,137.58 522.27,159.97 508.05,166.54" fill="#ff2b00"/>
<polygon points="508.05,165.64 522.27,159.07 522.27,179.24 508.05,186.65" fill="#ee0000"/>
<polygon points="508.05,185.75 522.27,178.34 522.27,191.96 508.05,199.92" fill="#cb0000"/>
<polygon points="508.05,199.02 522.27,191.06 522.27,201.01 508.05,209.36" fill="#b20000"/>
<polygon points="508.05,208.46 522.27,200.11 522.27,206.81 508.05,215.41" fill="#9e0000"/>
<polygon points="508.05,214.51 522.27,205.91 522.27,212.23 508.05,221.07" fill="#8f0000"/>
<polygon points="508.05,220.17 522.27,211.33 522.27,216.90 508.05,225.95" fill="#8f0000"/>
<polygon points="508.05,225.05 522.27,216.00 522.27,221.61 508.05,230.90" fill="#8f0000"/>
<polygon points="521.37,34.70 535.58,33.21 535.58,67.53 521.37,71.79" fill="#d3ff2c"/>
<polygon points="521.37,70.89 535.58,66.63 535.58,102.86 521.37,110.04" fill="#fff900"/>
<polygon points="521.37,109.14 535.58,101.96 535.58,129.47 521.37,138.84" fill="#ff7c00"/>
<polygon points="521.37,137.94 535.58,128.57 535.58,149.37 521.37,160.38" fill="#ff3f00"/>
<polygon points="521.37,159.48 535.58,148.47 535.58,167.22 521.37,179.71" fill="#fd0000"/>
<polygon points="521.37,178.81 535.58,166.32 535.58,179.00 521.37,192.46" fill="#df0000"/>
<polygon points="521.37,191.56 535.58,178.10 535.58,187.38 521.37,201.54" fill="#c60000"/>
<polygon points="521.37,200.64 535.58,186.48 535.58,192.75 521.37,207.35" fill="#b70000"/>
<polygon points="521.37,206.45 535.58,191.85 535.58,197.77 521.37,212.79" fill="#ad0000"/>
<polygon points="521.37,211.89 535.58,196.87 535.58,202.10 521.37,217.47" fill="#a80000"/>
<polygon points="521.37,216.57 535.58,201.20 535.58,206.40 521.37,222.20" fill="#a80000"/>
<polygon points="534.68,33.30 548.90,31.38 548.90,62.29 534.68,67.80" fill="#fff900"/>
<polygon points="534.68,66.90 548.90,61.39 548.90,94.02 534.68,103.32" fill="#ffd600"/>
<polygon points="534.68,102.42 548.90,93.12 548.90,117.91 534.68,130.06" fill="#ff7c00"/>
<polygon points="534.68,129.16 548.90,117.01 548.90,135.78 534.68,150.06" fill="#ff4900"/>
<polygon points="534.68,149.16 548.90,134.88 548.90,151.81 534.68,168.01" fill="#ff1700"/>
<polygon points="534.68,167.11 548.90,150.91 548.90,162.39 534.68,179.85" fill="#fd0000"/>
<polygon points="534.68,178.95 548.90,161.49 548.90,169.92 534.68,188.28" fill="#ee0000"/>
<polygon points="534.68,187.38 548.90,169.02 548.90,174.74 534.68,193.68" fill="#e40000"/>
<polygon points="534.68,192.78 548.90,173.84 548.90,179.25 534.68,198.72" fill="#df0000"/>
<polygon points="534.68,197.82 548.90,178.35 548.90,183.14 534.68,203.08" fill="#df0000"/>
<polygon points="534.68,202.18 548.90,182.24 548.90,186.90 534.68,207.40" fill="#df0000"/>
<polygon points="548.00,31.50 562.22,28.30 562.22,54.06 548.00,62.64" fill="#fff900"/>
<polygon points="548.00,61.74 562.22,53.16 562.22,80.35 548.00,94.61" fill="#ffd600"/>
<polygon points="548.00,93.71 562.22,79.45 562.22,100.13 548.00,118.68" fill="#ffa400"/>
<polygon points="548.00,117.78 562.22,99.23 562.22,114.94 548.00,136.68" fill="#ff7100"/>
<polygon points="548.00,135.78 562.22,114.04 562.22,128.22 548.00,152.84" fill="#ff5300"/>
<polygon points="548.00,151.94 562.22,127.32 562.22,136.98 548.00,163.50" fill="#ff3f00"/>
<polygon points="548.00,162.60 562.22,136.08 562.22,143.22 548.00,171.08" fill="#ff3000"/>
<polygon points="548.00,170.18 562.22,142.32 562.22,147.21 548.00,175.94" fill="#ff2100"/>
<polygon points="548.00,175.04 562.22,146.31 562.22,150.95 548.00,180.48" fill="#ff1c00"/>
<polygon points="548.00,179.58 562.22,150.05 562.22,154.17 548.00,184.40" fill="#ff1c00"/>
<polygon points="548.00,183.50 562.22,153.27 562.22,157.13 548.00,188.20" fill="#ff1c00"/>
<polygon points="561.32,28.50 575.53,25.08 575.53,46.10 561.32,54.61" fill="#ecff13"/>
<polygon points="561.32,53.71 575.53,45.20 575.53,67.36 561.32,81.25" fill="#ffef00"/>
<polygon points="561.32,80.35 575.53,66.46 575.53,83.37 561.32,101.31" fill="#ffc700"/>
<polygon points="561.32,100.41 575.53,82.47 575.53,95.35 561.32,116.31" fill="#ffa400"/>
<polygon points="561.32,115.41 575.53,94.45 575.53,106.10 561.32,129.78" fill="#ff8600"/>
<polygon points="561.32,128.88 575.53,105.20 575.53,113.18 561.32,138.66" fill="#ff7c00"/>
<polygon points="561.32,137.76 575.53,112.28 575.53,118.23 561.32,144.98" fill="#ff7100"/>
<polygon points="561.32,144.08 575.53,117.33 575.53,121.46 561.32,149.03" fill="#ff6c00"/>
<polygon points="561.32,148.13 575.53,120.56 575.53,124.48 561.32,152.82" fill="#ff6c00"/>
<polygon points="561.32,151.92 575.53,123.58 575.53,127.09 561.32,156.08" fill="#ff6c00"/>
<polygon points="561.32,155.18 575.53,126.19 575.53,129.31 561.32,159.10" fill="#ff6c00"/>
<polygon points="574.63,25.30 588.85,22.63 588.85,39.07 574.63,46.64" fill="#c4ff3b"/>
<polygon points="574.63,45.74 588.85,38.17 588.85,55.49 574.63,68.24" fill="#e2ff1d"/>
<polygon points="574.63,67.34 588.85,54.59 588.85,67.85 574.63,84.51" fill="#fffe00"/>
<polygon points="574.63,83.61 588.85,66.95 588.85,77.10 574.63,96.68" fill="#ffe000"/>
<polygon points="574.63,95.78 588.85,76.20 588.85,85.40 574.63,107.59" fill="#ffd600"/>
<polygon points="574.63,106.69 588.85,84.50 588.85,90.87 574.63,114.80" fill="#ffc700"/>
<polygon points="574.63,113.90 588.85,89.97 588.85,94.77 574.63,119.92" fill="#ffbd00"/>
<polygon points="574.63,119.02 588.85,93.87 588.85,97.26 574.63,123.20" fill="#ffb800"/>
<polygon points="574.63,122.30 588.85,96.36 588.85,99.60 574.63,126.28" fill="#ffb800"/>
<polygon points="574.63,125.38 588.85,98.70 588.85,101.61 574.63,128.92" fill="#ffb800"/>
<polygon points="574.63,128.02 588.85,100.71 588.85,103.12 574.63,131.20" fill="#ffb800"/>
<polygon points="587.95,22.80 602.17,20.56 602.17,32.58 587.95,39.55" fill="#87ff78"/>
<polygon points="587.95,38.65 602.17,31.68 602.17,44.35 587.95,56.29" fill="#92ff6d"/>
<polygon points="587.95,55.39 602.17,43.45 602.17,53.20 587.95,68.90" fill="#a1ff5e"/>
<polygon points="587.95,68.00 602.17,52.30 602.17,59.83 587.95,78.34" fill="#b0ff4f"/>
<polygon points="587.95,77.44 602.17,58.93 602.17,65.77 587.95,86.80" fill="#b5ff4a"/>
<polygon points="587.95,85.90 602.17,64.87 602.17,69.69 587.95,92.38" fill="#baff45"/>
<polygon points="587.95,91.48 602.17,68.79 602.17,72.48 587.95,96.36" fill="#bfff40"/>
<polygon points="587.95,95.46 602.17,71.58 602.17,74.27 587.95,98.90" fill="#bfff40"/>
<polygon points="587.95,98.00 602.17,73.37 602.17,75.94 587.95,101.28" fill="#bfff40"/>
<polygon points="587.95,100.38 602.17,75.04 602.17,77.38 587.95,103.34" fill="#bfff40"/>
<polygon points="587.95,102.44 602.17,76.48 602.17,78.21 587.95,104.90" fill="#bfff40"/>
<polygon points="601.27,20.70 615.48,18.78 615.48,27.66 601.27,33.03" fill="#23ffdc"/>
<polygon points="601.27,32.13 615.48,26.76 615.48,36.10 601.27,45.10" fill="#28ffd7"/>
<polygon points="601.27,44.20 615.48,35.20 615.48,42.46 601.27,54.20" fill="#2dffd2"/>
<polygon points="601.27,53.30 615.48,41.56 615.48,47.21 601.27,61.00" fill="#2dffd2"/>
<polygon points="601.27,60.10 615.48,46.31 615.48,51.48 601.27,67.10" fill="#32ffcd"/>
<polygon points="601.27,66.20 615.48,50.58 615.48,54.29 601.27,71.13" fill="#32ffcd"/>
<polygon points="601.27,70.23 615.48,53.39 615.48,56.29 601.27,73.99" fill="#32ffcd"/>
<polygon points="601.27,73.09 615.48,55.39 615.48,57.57 601.27,75.83" fill="#32ffcd"/>
<polygon points="601.27,74.93 615.48,56.67 615.48,58.77 601.27,77.54" fill="#32ffcd"/>
<polygon points="601.27,76.64 615.48,57.87 615.48,59.81 601.27,79.02" fill="#32ffcd"/>
<polygon points="601.27,78.12 615.48,58.91 615.48,60.15 601.27,79.90" fill="#32ffcd"/>
<polygon points="614.58,18.90 627.90,17.00 627.90,23.44 614.58,28.00" fill="#0dfff2"/>
<polygon points="614.58,27.10 627.90,22.54 627.90,29.29 614.58,36.67" fill="#0dfff2"/>
<polygon points="614.58,35.77 627.90,28.39 627.90,33.70 614.58,43.20" fill="#0dfff2"/>
<polygon points="614.58,42.30 627.90,32.80 627.90,37.00 614.58,48.08" fill="#0dfff2"/>
<polygon points="614.58,47.18 627.90,36.10 627.90,39.96 614.58,52.47" fill="#0dfff2"/>
<polygon points="614.58,51.57 627.90,39.06 627.90,41.91 614.58,55.36" fill="#0dfff2"/>
<polygon points="614.58,54.46 627.90,41.01 627.90,43.30 614.58,57.41" fill="#0dfff2"/>
<polygon points="614.58,56.51 627.90,42.40 627.90,44.19 614.58,58.73" fill="#0dfff2"/>
<polygon points="614.58,57.83 627.90,43.29 627.90,45.02 614.58,59.96" fill="#0dfff2"/>
<polygon points="614.58,59.06 627.90,44.12 627.90,45.70 614.58,61.02" fill="#0dfff2"/>
<polygon points="614.58,60.12 627.90,44.84 627.90,45.70 614.58,61.40" fill="#0dfff2"/>
<rect x="388.20" y="16.40" width="239.70" height="214.60" fill="none" stroke="#000" stroke-width="1.5"/>
<line x1="388.20" y1="51.70" x2="390.70" y2="51.70" class="t"/>
<line x1="627.90" y1="51.70" x2="625.40" y2="51.70" class="t"/>
<text x="386.00" y="55.60" text-anchor="end" class="l">−2</text>
<line x1="388.20" y1="88.10" x2="390.70" y2="88.10" class="t"/>
<line x1="627.90" y1="88.10" x2="625.40" y2="88.10" class="t"/>
<text x="386.00" y="92.00" text-anchor="end" class="l">−4</text>
<line x1="388.20" y1="124.60" x2="390.70" y2="124.60" class="t"/>
<line x1="627.90" y1="124.60" x2="625.40" y2="124.60" class="t"/>
<text x="386.00" y="128.50" text-anchor="end" class="l">−6</text>
<line x1="388.20" y1="161.30" x2="390.70" y2="161.30" class="t"/>
<line x1="627.90" y1="161.30" x2="625.40" y2="161.30" class="t"/>
<text x="386.00" y="165.20" text-anchor="end" class="l">−8</text>
<line x1="388.20" y1="198.00" x2="390.70" y2="198.00" class="t"/>
<line x1="627.90" y1="198.00" x2="625.40" y2="198.00" class="t"/>
<text x="386.00" y="201.90" text-anchor="end" class="l">−10</text>
<line x1="414.83" y1="231.00" x2="414.83" y2="228.50" class="t"/>
<line x1="414.83" y1="16.40" x2="414.83" y2="18.90" class="t"/>
<text x="415.23" y="244.60" text-anchor="middle" class="l">1000</text>
<line x1="468.10" y1="231.00" x2="468.10" y2="228.50" class="t"/>
<line x1="468.10" y1="16.40" x2="468.10" y2="18.90" class="t"/>
<text x="468.50" y="244.60" text-anchor="middle" class="l">2000</text>
<line x1="521.37" y1="231.00" x2="521.37" y2="228.50" class="t"/>
<line x1="521.37" y1="16.40" x2="521.37" y2="18.90" class="t"/>
<text x="521.77" y="244.60" text-anchor="middle" class="l">3000</text>
<line x1="574.63" y1="231.00" x2="574.63" y2="228.50" class="t"/>
<line x1="574.63" y1="16.40" x2="574.63" y2="18.90" class="t"/>
<text x="575.03" y="244.60" text-anchor="middle" class="l">4000</text>
<text x="628.30" y="244.60" text-anchor="middle" class="l">5000</text>
<text x="508.05" y="255.2" text-anchor="middle" class="l">y (m)</text>
<text x="508.35" y="7.0" text-anchor="middle" class="ti">&lt;<tspan dy="-0.6" class="rho">ρ</tspan><tspan dy="0.6">&gt;</tspan></text>
<text transform="translate(364.60,123.8) rotate(-90)" text-anchor="middle" class="l">z (m)</text>
<text x="355.80" y="12.4" class="pl">b</text>
<rect x="638.60" y="227.65" width="12.10" height="3.95" fill="#000097" shape-rendering="crispEdges"/>
<rect x="638.60" y="224.29" width="12.10" height="3.95" fill="#0000a7" shape-rendering="crispEdges"/>
<rect x="638.60" y="220.94" width="12.10" height="3.95" fill="#0000b7" shape-rendering="crispEdges"/>
<rect x="638.60" y="217.59" width="12.10" height="3.95" fill="#0000c6" shape-rendering="crispEdges"/>
<rect x="638.60" y="214.23" width="12.10" height="3.95" fill="#0000d6" shape-rendering="crispEdges"/>
<rect x="638.60" y="210.88" width="12.10" height="3.95" fill="#0000e6" shape-rendering="crispEdges"/>
<rect x="638.60" y="207.53" width="12.10" height="3.95" fill="#0000f5" shape-rendering="crispEdges"/>
<rect x="638.60" y="204.18" width="12.10" height="3.95" fill="#0006ff" shape-rendering="crispEdges"/>
<rect x="638.60" y="200.82" width="12.10" height="3.95" fill="#0016ff" shape-rendering="crispEdges"/>
<rect x="638.60" y="197.47" width="12.10" height="3.95" fill="#0025ff" shape-rendering="crispEdges"/>
<rect x="638.60" y="194.12" width="12.10" height="3.95" fill="#0035ff" shape-rendering="crispEdges"/>
<rect x="638.60" y="190.76" width="12.10" height="3.95" fill="#0045ff" shape-rendering="crispEdges"/>
<rect x="638.60" y="187.41" width="12.10" height="3.95" fill="#0055ff" shape-rendering="crispEdges"/>
<rect x="638.60" y="184.06" width="12.10" height="3.95" fill="#0064ff" shape-rendering="crispEdges"/>
<rect x="638.60" y="180.70" width="12.10" height="3.95" fill="#0074ff" shape-rendering="crispEdges"/>
<rect x="638.60" y="177.35" width="12.10" height="3.95" fill="#0084ff" shape-rendering="crispEdges"/>
<rect x="638.60" y="174.00" width="12.10" height="3.95" fill="#0093ff" shape-rendering="crispEdges"/>
<rect x="638.60" y="170.64" width="12.10" height="3.95" fill="#00a3ff" shape-rendering="crispEdges"/>
<rect x="638.60" y="167.29" width="12.10" height="3.95" fill="#00b3ff" shape-rendering="crispEdges"/>
<rect x="638.60" y="163.94" width="12.10" height="3.95" fill="#00c2ff" shape-rendering="crispEdges"/>
<rect x="638.60" y="160.58" width="12.10" height="3.95" fill="#00d2ff" shape-rendering="crispEdges"/>
<rect x="638.60" y="157.23" width="12.10" height="3.95" fill="#00e2ff" shape-rendering="crispEdges"/>
<rect x="638.60" y="153.88" width="12.10" height="3.95" fill="#00f1ff" shape-rendering="crispEdges"/>
<rect x="638.60" y="150.53" width="12.10" height="3.95" fill="#02fffd" shape-rendering="crispEdges"/>
<rect x="638.60" y="147.17" width="12.10" height="3.95" fill="#12ffed" shape-rendering="crispEdges"/>
<rect x="638.60" y="143.82" width="12.10" height="3.95" fill="#21ffde" shape-rendering="crispEdges"/>
<rect x="638.60" y="140.47" width="12.10" height="3.95" fill="#31ffce" shape-rendering="crispEdges"/>
<rect x="638.60" y="137.11" width="12.10" height="3.95" fill="#41ffbe" shape-rendering="crispEdges"/>
<rect x="638.60" y="133.76" width="12.10" height="3.95" fill="#51ffae" shape-rendering="crispEdges"/>
<rect x="638.60" y="130.41" width="12.10" height="3.95" fill="#60ff9f" shape-rendering="crispEdges"/>
<rect x="638.60" y="127.05" width="12.10" height="3.95" fill="#70ff8f" shape-rendering="crispEdges"/>
<rect x="638.60" y="123.70" width="12.10" height="3.95" fill="#80ff7f" shape-rendering="crispEdges"/>
<rect x="638.60" y="120.35" width="12.10" height="3.95" fill="#8fff70" shape-rendering="crispEdges"/>
<rect x="638.60" y="116.99" width="12.10" height="3.95" fill="#9fff60" shape-rendering="crispEdges"/>
<rect x="638.60" y="113.64" width="12.10" height="3.95" fill="#afff50" shape-rendering="crispEdges"/>
<rect x="638.60" y="110.29" width="12.10" height="3.95" fill="#beff41" shape-rendering="crispEdges"/>
<rect x="638.60" y="106.93" width="12.10" height="3.95" fill="#ceff31" shape-rendering="crispEdges"/>
<rect x="638.60" y="103.58" width="12.10" height="3.95" fill="#deff21" shape-rendering="crispEdges"/>
<rect x="638.60" y="100.23" width="12.10" height="3.95" fill="#edff12" shape-rendering="crispEdges"/>
<rect x="638.60" y="96.88" width="12.10" height="3.95" fill="#fdff02" shape-rendering="crispEdges"/>
<rect x="638.60" y="93.52" width="12.10" height="3.95" fill="#fff100" shape-rendering="crispEdges"/>
<rect x="638.60" y="90.17" width="12.10" height="3.95" fill="#ffe100" shape-rendering="crispEdges"/>
<rect x="638.60" y="86.82" width="12.10" height="3.95" fill="#ffd200" shape-rendering="crispEdges"/>
<rect x="638.60" y="83.46" width="12.10" height="3.95" fill="#ffc200" shape-rendering="crispEdges"/>
<rect x="638.60" y="80.11" width="12.10" height="3.95" fill="#ffb200" shape-rendering="crispEdges"/>
<rect x="638.60" y="76.76" width="12.10" height="3.95" fill="#ffa300" shape-rendering="crispEdges"/>
<rect x="638.60" y="73.40" width="12.10" height="3.95" fill="#ff9300" shape-rendering="crispEdges"/>
<rect x="638.60" y="70.05" width="12.10" height="3.95" fill="#ff8300" shape-rendering="crispEdges"/>
<rect x="638.60" y="66.70" width="12.10" height="3.95" fill="#ff7400" shape-rendering="crispEdges"/>
<rect x="638.60" y="63.34" width="12.10" height="3.95" fill="#ff6400" shape-rendering="crispEdges"/>
<rect x="638.60" y="59.99" width="12.10" height="3.95" fill="#ff5400" shape-rendering="crispEdges"/>
<rect x="638.60" y="56.64" width="12.10" height="3.95" fill="#ff4500" shape-rendering="crispEdges"/>
<rect x="638.60" y="53.28" width="12.10" height="3.95" fill="#ff3500" shape-rendering="crispEdges"/>
<rect x="638.60" y="49.93" width="12.10" height="3.95" fill="#ff2500" shape-rendering="crispEdges"/>
<rect x="638.60" y="46.58" width="12.10" height="3.95" fill="#ff1600" shape-rendering="crispEdges"/>
<rect x="638.60" y="43.22" width="12.10" height="3.95" fill="#ff0600" shape-rendering="crispEdges"/>
<rect x="638.60" y="39.87" width="12.10" height="3.95" fill="#f50000" shape-rendering="crispEdges"/>
<rect x="638.60" y="36.52" width="12.10" height="3.95" fill="#e50000" shape-rendering="crispEdges"/>
<rect x="638.60" y="33.17" width="12.10" height="3.95" fill="#d60000" shape-rendering="crispEdges"/>
<rect x="638.60" y="29.81" width="12.10" height="3.95" fill="#c60000" shape-rendering="crispEdges"/>
<rect x="638.60" y="26.46" width="12.10" height="3.95" fill="#b60000" shape-rendering="crispEdges"/>
<rect x="638.60" y="23.11" width="12.10" height="3.95" fill="#a70000" shape-rendering="crispEdges"/>
<rect x="638.60" y="19.75" width="12.10" height="3.95" fill="#970000" shape-rendering="crispEdges"/>
<rect x="638.60" y="16.40" width="12.10" height="3.95" fill="#870000" shape-rendering="crispEdges"/>
<rect x="638.60" y="16.40" width="12.10" height="214.60" fill="none" stroke="#000" stroke-width="1.4"/>
<line x1="638.60" y1="210.99" x2="640.80" y2="210.99" class="t"/>
<line x1="650.70" y1="210.99" x2="648.50" y2="210.99" class="t"/>
<text x="652.30" y="214.89" class="l">1023.5</text>
<line x1="638.60" y1="176.49" x2="640.80" y2="176.49" class="t"/>
<line x1="650.70" y1="176.49" x2="648.50" y2="176.49" class="t"/>
<text x="652.30" y="180.39" class="l">1024</text>
<line x1="638.60" y1="141.99" x2="640.80" y2="141.99" class="t"/>
<line x1="650.70" y1="141.99" x2="648.50" y2="141.99" class="t"/>
<text x="652.30" y="145.89" class="l">1024.5</text>
<line x1="638.60" y1="107.48" x2="640.80" y2="107.48" class="t"/>
<line x1="650.70" y1="107.48" x2="648.50" y2="107.48" class="t"/>
<text x="652.30" y="111.38" class="l">1025</text>
<line x1="638.60" y1="72.98" x2="640.80" y2="72.98" class="t"/>
<line x1="650.70" y1="72.98" x2="648.50" y2="72.98" class="t"/>
<text x="652.30" y="76.88" class="l">1025.5</text>
<line x1="638.60" y1="38.48" x2="640.80" y2="38.48" class="t"/>
<line x1="650.70" y1="38.48" x2="648.50" y2="38.48" class="t"/>
<text x="652.30" y="42.38" class="l">1026</text>
</svg>
</body></html>
